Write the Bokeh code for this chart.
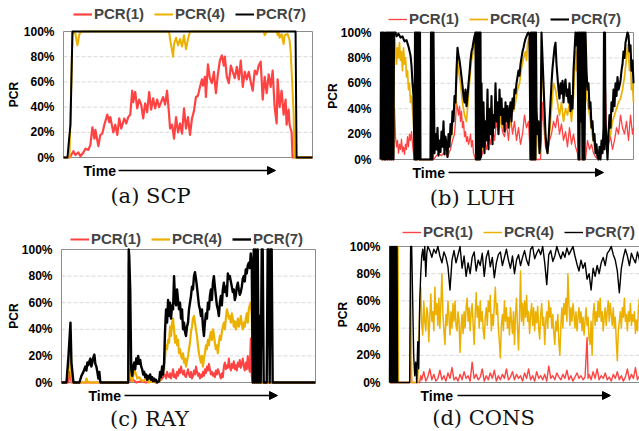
import math
from bokeh.plotting import figure
from bokeh.layouts import row, column
from bokeh.models import Range1d, Legend, LegendItem, Arrow, NormalHead
from bokeh.core.properties import value
from bokeh.embed import file_html
from bokeh.resources import INLINE

RED = "#FF4242"
YEL = "#EBB000"
BLK = "#000000"

pcr_ticks = [0, 20, 40, 60, 80, 100]
pcr_tick_labels = ["0%", "20%", "40%", "60%", "80%", "100%"]
series_names = ["PCR(1)", "PCR(4)", "PCR(7)"]
captions = ["(a) SCP", "(b) LUH", "(c) RAY", "(d) CONS"]
time_label = "Time"
y_label = "PCR"

# ---------------- (a) SCP : (time, PCR %) ----------------
scp_pcr1 = [(0,0),(6,0),(7,1),(10,5),(12,2),(15,4),(17,1),(20,4),(22,7),(25,6),(27,10),(29,24),(31,15),(32,22),(35,9),(37,18),(39,19),(41,26),(44,34),(46,28),(47,32),(50,20),(52,26),(54,18),(56,31),(58,23),(61,31),(63,27),(65,32),(67,34),(69,53),(70,44),(72,52),(74,39),(76,46),(78,42),(80,31),(82,43),(84,36),(86,52),(88,38),(90,47),(92,39),(94,46),(96,40),(98,44),(100,48),(102,42),(104,53),(106,34),(107,23),(109,26),(111,15),(113,32),(115,20),(117,27),(119,19),(121,39),(123,23),(125,32),(127,18),(129,31),(131,37),(133,48),(135,49),(137,56),(139,62),(140,57),(142,64),(143,48),(145,74),(147,63),(149,59),(151,68),(153,51),(155,66),(157,77),(159,81),(161,73),(162,80),(164,64),(166,59),(168,73),(170,68),(172,63),(174,72),(176,62),(178,77),(180,56),(182,68),(184,62),(186,68),(188,60),(190,53),(192,69),(194,66),(196,73),(198,76),(200,46),(202,64),(204,51),(206,66),(208,56),(210,69),(212,40),(214,27),(215,62),(217,40),(219,53),(221,34),(223,46),(224,26),(226,38),(227,26),(229,20),(230,0),(250,0)]
scp_pcr4 = [(0,0),(6,0),(9,100),(12,98),(14,89),(16,98),(18,100),(106,100),(107,94),(110,80),(111,90),(113,95),(115,89),(117,94),(119,88),(121,97),(123,86),(125,94),(127,100),(201,100),(202,97),(204,100),(214,100),(215,97),(216,100),(217,95),(219,98),(221,90),(222,97),(225,98),(227,93),(228,85),(229,69),(231,36),(232,0),(250,0)]
scp_pcr7 = [(0,0),(4,0),(6,18),(7,26),(9,100),(233,100),(234,0),(250,0)]

# ---------------- (b) LUH ----------------
luh_pcr1 = [(0,0),(13,0),(14,40),(15,18),(16,10),(17,15),(18,5),(19,12),(20,8),(21,16),(22,6),(23,10),(24,4),(25,12),(26,8),(27,18),(28,10),(29,20),(30,15),(31,22),(32,12),(33,5),(34,0),(36,0),(37,80),(38,0),(53,0),(55,2),(58,5),(61,3),(64,6),(67,2),(70,8),(72,15),(74,20),(75,30),(76,45),(77,40),(78,35),(79,42),(80,30),(81,38),(82,25),(83,30),(84,18),(85,22),(86,14),(87,18),(88,12),(89,15),(90,20),(91,10),(92,15),(93,5),(95,0),(100,0),(102,5),(104,15),(106,8),(108,20),(110,12),(112,25),(114,15),(116,30),(118,20),(120,35),(122,22),(124,18),(126,28),(128,15),(130,35),(132,20),(134,30),(136,15),(138,25),(140,12),(142,20),(144,35),(146,25),(148,30),(150,0),(160,0),(162,45),(163,30),(165,10),(167,5),(169,15),(171,20),(173,30),(175,25),(177,35),(179,20),(181,28),(183,15),(185,22),(187,10),(189,25),(191,12),(193,20),(195,10),(197,5),(198,0),(205,0),(207,15),(209,8),(211,12),(213,5),(215,2),(218,0),(221,5),(223,10),(225,55),(226,20),(228,12),(230,18),(232,8),(234,15),(236,25),(238,20),(240,35),(242,25),(244,20),(246,30),(248,15),(250,35),(252,20),(253,25)]
luh_pcr4 = [(0,0),(13,5),(14,100),(15,90),(16,75),(17,88),(18,80),(19,92),(20,78),(21,85),(22,70),(23,88),(24,75),(25,80),(26,65),(27,70),(28,55),(29,60),(30,45),(31,50),(32,40),(33,30),(34,0),(35,100),(36,0),(37,95),(38,0),(50,0),(51,100),(52,0),(53,5),(55,10),(57,15),(59,5),(61,18),(63,20),(65,10),(67,5),(69,15),(71,18),(73,35),(75,40),(77,80),(78,70),(80,60),(82,45),(84,35),(86,30),(88,50),(89,60),(90,70),(91,78),(92,82),(93,85),(94,92),(95,98),(96,0),(97,95),(98,0),(100,5),(101,45),(102,8),(103,35),(105,20),(107,40),(109,30),(111,42),(113,25),(115,48),(117,35),(119,40),(121,25),(123,30),(125,35),(127,30),(129,25),(131,40),(133,38),(135,45),(137,55),(139,60),(141,72),(143,80),(145,85),(146,78),(147,90),(148,95),(149,88),(150,0),(153,90),(155,0),(156,30),(158,10),(160,5),(161,80),(163,50),(165,15),(167,5),(169,20),(171,40),(173,60),(175,55),(177,45),(179,35),(181,45),(183,30),(185,40),(187,35),(189,45),(191,30),(193,50),(195,85),(196,70),(197,90),(198,0),(201,95),(202,0),(205,95),(206,50),(208,40),(210,30),(212,18),(214,10),(216,5),(218,0),(221,8),(224,15),(226,10),(228,15),(230,20),(232,30),(234,35),(236,40),(238,45),(240,48),(242,55),(244,65),(246,80),(247,90),(248,85),(249,70),(250,78),(251,55),(252,60),(253,45)]
luh_pcr7 = [(0,0),(0.5,100),(1,5),(1.5,100),(2,0),(2.5,100),(3,10),(3.5,100),(4,0),(4.5,95),(5,0),(5.5,100),(6,3),(6.5,100),(7,0),(7.5,100),(8,8),(8.5,100),(9,0),(9.5,100),(10,2),(10.5,100),(11,0),(11.5,100),(12,5),(12.5,100),(13,0),(13.5,100),(15,100),(16,97),(18,99),(20,96),(22,97),(24,93),(26,94),(28,89),(30,82),(31,74),(32,60),(33,50),(34,0),(34.5,100),(35,0),(35.5,100),(36,0),(36.5,100),(37,0),(37.5,100),(38,2),(38.5,100),(39,0),(39.5,100),(40,0),(50,0),(50.5,100),(51,0),(51.5,100),(52,0),(53,100),(54,5),(55,20),(56,8),(57,25),(58,3),(59,15),(60,6),(61,22),(62,10),(63,30),(64,4),(65,18),(66,12),(67,2),(68,20),(69,10),(70,28),(71,20),(72,38),(73,30),(74,50),(75,45),(76,70),(77,88),(78,82),(79,78),(80,72),(81,65),(82,58),(83,50),(84,45),(85,55),(86,42),(87,50),(88,60),(89,68),(90,78),(91,85),(92,88),(93,93),(94,97),(95,100),(95.5,0),(96,100),(96.5,0),(97,100),(97.5,0),(98,100),(98.5,0),(99,100),(99.5,0),(100,100),(100.5,2),(101,60),(102,10),(103,45),(104,5),(105,30),(106,15),(107,55),(108,8),(109,40),(110,20),(111,50),(112,12),(113,35),(114,25),(115,60),(116,30),(117,45),(118,20),(119,55),(120,35),(121,48),(122,28),(123,40),(124,22),(125,45),(126,30),(127,42),(128,25),(129,38),(130,45),(131,30),(132,48),(133,40),(134,55),(135,52),(136,60),(137,65),(138,70),(139,66),(140,75),(141,80),(142,85),(143,88),(144,92),(145,95),(146,97),(147,99),(148,100),(149,98),(150,0),(150.5,100),(151,0),(151.5,100),(152,0),(152.5,100),(153,0),(153.5,100),(154,0),(154.5,100),(155,0),(155.5,100),(156,40),(157,20),(158,30),(159,5),(160,15),(161,100),(162,80),(163,60),(164,40),(165,20),(166,10),(167,5),(168,15),(169,30),(170,45),(171,60),(172,72),(173,80),(174,88),(175,92),(176,75),(177,65),(178,55),(179,48),(180,60),(181,52),(182,62),(183,45),(184,58),(185,63),(186,50),(187,55),(188,45),(189,60),(190,38),(191,50),(192,40),(193,70),(194,85),(195,100),(196,90),(197,100),(198,0),(198.5,100),(199,0),(199.5,100),(200,30),(201,100),(202,0),(202.5,100),(203,0),(203.5,100),(204,0),(205,100),(206,70),(207,55),(208,60),(209,40),(210,45),(211,25),(212,30),(213,15),(214,20),(215,5),(216,12),(217,2),(218,0),(219,10),(220,0),(221,15),(222,5),(223,25),(223.5,100),(224,8),(224.5,100),(225,30),(226,15),(227,0),(228,20),(229,35),(230,25),(231,45),(232,38),(233,55),(234,42),(235,60),(236,50),(237,65),(238,55),(239,58),(240,62),(241,70),(242,75),(243,85),(244,80),(245,92),(246,96),(247,100),(248,98),(249,85),(250,90),(251,70),(252,78),(253,60)]

# ---------------- (c) RAY ----------------
ray_pcr1 = [(0,0),(7,0),(8,8),(9,6),(10,0),(67,0),(67.5,20),(68,5),(70,1),(72,2),(75,0),(80,1),(85,0),(90,1),(95,0),(100,2),(102,4),(104,6),(105,3),(106,8),(107,5),(108,4),(109,7),(110,3),(111,6),(112,10),(113,4),(114,6),(115,3),(116,8),(117,5),(118,10),(119,7),(120,12),(121,8),(122,6),(123,9),(124,5),(125,4),(126,7),(127,10),(128,6),(129,4),(130,8),(131,3),(132,5),(133,9),(134,6),(135,12),(136,8),(137,5),(138,7),(139,3),(140,6),(141,4),(142,8),(143,5),(144,10),(145,7),(146,12),(147,9),(148,14),(149,10),(150,6),(151,8),(152,5),(153,7),(154,4),(155,9),(156,6),(157,10),(158,8),(159,5),(160,3),(161,7),(162,4),(163,12),(164,15),(165,10),(166,13),(167,11),(168,18),(169,12),(170,9),(171,14),(172,11),(173,16),(174,10),(175,13),(176,9),(177,15),(178,12),(179,17),(180,11),(181,14),(182,18),(183,12),(184,9),(185,15),(186,10),(187,20),(188,12),(189,8),(190,33),(191,5),(192,0),(255,0)]
ray_pcr4 = [(0,0),(5,0),(7,10),(8,25),(9,15),(10,5),(11,0),(24,0),(25,3),(26,1),(27,0),(67,0),(67.5,90),(68,30),(69,5),(70,3),(71,1),(72,5),(73,10),(74,8),(75,6),(76,3),(78,4),(80,2),(82,1),(85,3),(88,0),(92,1),(96,0),(99,2),(100,5),(101,8),(102,12),(103,10),(104,20),(105,28),(106,25),(107,32),(108,30),(109,42),(110,35),(111,45),(112,48),(113,40),(114,30),(115,35),(116,28),(117,32),(118,22),(119,25),(120,20),(121,18),(122,22),(123,15),(124,18),(125,12),(126,16),(127,20),(128,25),(129,30),(130,38),(131,42),(132,48),(133,50),(134,45),(135,40),(136,35),(137,28),(138,22),(139,18),(140,15),(141,20),(142,12),(143,18),(144,22),(145,28),(146,25),(147,32),(148,28),(149,35),(150,38),(151,32),(152,40),(153,36),(154,30),(155,25),(156,28),(157,22),(158,30),(159,35),(160,32),(161,38),(162,42),(163,45),(164,40),(165,48),(166,55),(167,52),(168,48),(169,50),(170,45),(171,52),(172,48),(173,42),(174,46),(175,40),(176,44),(177,48),(178,42),(179,45),(180,50),(181,44),(182,40),(183,45),(184,42),(185,48),(186,52),(187,45),(188,55),(189,58),(190,60),(191,50),(192,0),(193,95),(194,0),(195,95),(196,0),(197,95),(198,0),(255,0)]
ray_pcr7 = [(0,0),(5,0),(7,20),(9,45),(10,15),(12,0),(18,0),(20,5),(22,8),(24,12),(25,9),(26,15),(27,13),(28,16),(29,18),(30,12),(31,15),(32,19),(33,21),(34,14),(35,12),(36,8),(37,3),(38,8),(39,0),(67,0),(67.5,100),(68,95),(69,70),(70,10),(71,5),(72,12),(73,15),(74,10),(75,18),(76,14),(77,20),(78,14),(79,17),(80,12),(81,10),(82,6),(83,8),(84,4),(85,6),(86,2),(87,5),(88,3),(89,6),(90,2),(91,4),(92,1),(93,3),(94,1),(95,2),(96,0),(98,1),(99,8),(100,4),(101,12),(102,6),(103,15),(104,40),(105,55),(106,45),(107,62),(108,50),(109,60),(110,48),(111,58),(112,55),(113,80),(114,62),(115,58),(116,70),(117,62),(118,55),(119,60),(120,48),(121,55),(122,40),(123,45),(124,38),(125,35),(126,42),(127,45),(128,55),(129,60),(130,65),(131,72),(132,70),(133,80),(134,83),(135,78),(136,72),(137,65),(138,58),(139,55),(140,50),(141,55),(142,42),(143,35),(144,45),(145,52),(146,48),(147,60),(148,55),(149,65),(150,70),(151,62),(152,75),(153,80),(154,72),(155,65),(156,58),(157,55),(158,50),(159,60),(160,65),(161,58),(162,70),(163,75),(164,68),(165,72),(166,65),(167,82),(168,78),(169,80),(170,76),(171,72),(172,68),(173,70),(174,62),(175,65),(176,72),(177,75),(178,70),(179,66),(180,68),(181,72),(182,78),(183,80),(184,76),(185,85),(186,82),(187,88),(188,90),(189,86),(190,97),(191,90),(192,0),(193,100),(194,0),(195,100),(196,0),(197,100),(198,0),(199,50),(200,0),(201,100),(202,100),(203,0),(206,0),(207,100),(208,100),(209,0),(210,100),(211,100),(212,0),(255,0)]

# ---------------- (d) CONS ----------------
cons_pcr1 = [(0,0),(20,0),(21,15),(22,0),(30,0),(31,5),(32,2),(34,8),(36,1),(38,4),(40,10),(42,2),(44,6),(46,1),(48,3),(50,9),(52,2),(54,5),(56,1),(58,7),(60,3),(62,11),(64,2),(66,4),(68,1),(70,6),(72,2),(74,8),(76,3),(78,5),(80,1),(82,15),(84,3),(86,6),(88,2),(90,4),(92,10),(94,1),(96,5),(98,2),(100,7),(102,3),(104,9),(106,1),(108,5),(110,2),(112,6),(114,3),(116,10),(118,2),(120,4),(122,8),(124,2),(126,6),(128,3),(130,5),(132,1),(134,7),(136,3),(138,10),(140,2),(142,5),(144,1),(146,8),(148,3),(150,5),(152,2),(154,6),(156,1),(158,12),(160,3),(162,5),(164,2),(166,7),(168,4),(170,2),(172,6),(174,3),(176,9),(178,2),(180,5),(182,1),(184,4),(186,7),(188,3),(190,5),(192,2),(194,4),(196,33),(197,3),(198,6),(200,2),(202,8),(204,3),(206,10),(208,2),(210,5),(212,3),(214,7),(216,2),(218,4),(220,1),(222,6),(224,3),(226,8),(228,2),(230,5),(232,1),(234,4),(236,10),(238,2),(240,6),(242,3),(244,11),(246,2),(248,5),(250,3)]
cons_pcr4 = [(0,0),(8,0),(8.5,100),(9,0),(20,0),(21,100),(22,0),(28,0),(29,30),(30,55),(31,70),(32,42),(33,35),(34,60),(35,45),(36,38),(37,55),(38,50),(39,30),(40,48),(41,65),(42,45),(43,52),(44,38),(45,70),(46,50),(47,58),(48,42),(49,62),(50,40),(51,58),(52,80),(53,50),(54,38),(55,28),(56,50),(57,42),(58,60),(59,48),(60,35),(61,52),(62,40),(63,58),(64,45),(65,60),(66,42),(67,38),(68,52),(69,45),(70,22),(71,40),(72,50),(73,36),(74,52),(75,40),(76,55),(77,62),(78,45),(79,55),(80,38),(81,52),(82,58),(83,42),(84,28),(85,50),(86,66),(87,48),(88,56),(89,40),(90,60),(91,45),(92,52),(93,38),(94,32),(95,48),(96,55),(97,42),(98,60),(99,52),(100,64),(101,38),(102,50),(103,42),(104,58),(105,70),(106,50),(107,58),(108,40),(109,30),(110,18),(111,42),(112,50),(113,38),(114,60),(115,45),(116,55),(117,40),(118,48),(119,35),(120,55),(121,45),(122,36),(123,52),(124,28),(125,50),(126,62),(127,40),(128,24),(129,48),(130,82),(131,45),(132,58),(133,42),(134,60),(135,48),(136,64),(137,45),(138,52),(139,36),(140,50),(141,58),(142,42),(143,55),(144,38),(145,52),(146,44),(147,56),(148,40),(149,32),(150,50),(151,58),(152,42),(153,48),(154,28),(155,45),(156,52),(157,40),(158,60),(159,48),(160,55),(161,40),(162,50),(163,36),(164,28),(165,45),(166,38),(167,50),(168,30),(169,20),(170,42),(171,55),(172,40),(173,58),(174,50),(175,62),(176,45),(177,80),(178,58),(179,42),(180,55),(181,45),(182,58),(183,50),(184,40),(185,52),(186,38),(187,48),(188,55),(189,44),(190,52),(191,38),(192,48),(193,35),(194,45),(195,55),(196,42),(197,48),(198,32),(199,28),(200,45),(201,20),(202,50),(203,58),(204,42),(205,52),(206,45),(207,60),(208,48),(209,62),(210,45),(211,52),(212,38),(213,48),(214,55),(215,42),(216,52),(217,60),(218,45),(219,58),(220,50),(221,42),(222,55),(223,40),(224,48),(225,30),(226,16),(227,38),(228,45),(229,52),(230,40),(231,55),(232,48),(233,62),(234,45),(235,50),(236,38),(237,52),(238,45),(239,58),(240,42),(241,50),(242,45),(243,52),(244,36),(245,46),(246,38),(247,55),(248,62),(249,42),(250,30)]
cons_pcr7 = [(0,0),(0.5,100),(1,0),(1.5,100),(2,0),(2.5,100),(3,0),(3.5,100),(4,0),(4.5,100),(5,0),(5.5,100),(6,0),(6.5,100),(7,0),(7.5,100),(8,0),(20,0),(21,100),(22,100),(23,60),(24,20),(25,5),(26,15),(27,0),(28,30),(29,10),(30,60),(31,80),(32,93),(33,98),(34,90),(35,100),(36,78),(37,95),(38,100),(40,97),(42,92),(44,98),(46,95),(48,100),(50,93),(52,88),(54,96),(56,92),(58,85),(60,68),(62,90),(64,97),(66,88),(68,94),(70,100),(72,84),(74,93),(76,78),(78,88),(80,80),(82,92),(84,96),(86,82),(88,90),(90,86),(92,95),(94,78),(96,92),(98,97),(100,85),(102,92),(104,77),(106,88),(108,94),(110,96),(112,86),(114,92),(116,98),(118,90),(120,84),(122,93),(124,80),(126,90),(128,94),(130,86),(132,92),(134,97),(136,90),(138,86),(140,98),(142,100),(144,91),(146,95),(148,98),(150,94),(152,100),(154,88),(156,72),(158,94),(160,97),(162,89),(164,93),(166,100),(168,95),(170,91),(172,96),(174,92),(176,99),(178,94),(180,97),(182,100),(184,93),(186,87),(188,82),(190,90),(192,84),(194,88),(196,76),(198,80),(200,68),(202,84),(204,78),(206,86),(208,80),(210,88),(212,92),(214,86),(216,95),(218,97),(220,100),(222,94),(224,90),(226,82),(228,66),(230,84),(232,92),(234,98),(236,93),(238,86),(240,95),(242,91),(244,88),(246,96),(248,90),(250,78)]


def make_panel(series, tmax, caption, width, height, bl, br, bt, bb, widths,
               legend_x, legend_gap, pcr_dx, time_x, arrow_x0, arrow_x1, cap_x, cap_dy):
    fw = width - bl - br          # pixel width of the 0..tmax box
    fh = height - bt - bb         # pixel height of the 0..100 box
    sx = tmax / fw
    sy = 100.0 / fh
    p = figure(width=width, height=height,
               x_range=Range1d(-bl * sx, tmax + br * sx), y_range=Range1d(-bb * sy, 100 + bt * sy),
               output_backend="svg", toolbar_location=None,
               x_axis_location=None, y_axis_location=None,
               min_border_left=0, min_border_right=0, min_border_top=0, min_border_bottom=0)
    p.background_fill_color = "white"
    p.border_fill_color = "white"
    p.outline_line_color = None
    p.xgrid.visible = False
    p.ygrid.visible = False

    inner = pcr_ticks[1:-1]
    p.segment(x0=[0] * len(inner), x1=[tmax] * len(inner), y0=inner, y1=inner,
              line_color="#d9d9d9", line_width=1, line_dash="4 2")
    p.quad(left=[0], right=[tmax], bottom=[0], top=[100], fill_color=None,
           line_color="#8c8c8c", line_width=1)

    # y tick labels and axis title
    p.text(x=[-9 * sx] * len(pcr_ticks), y=pcr_ticks, text=pcr_tick_labels,
           text_align="right", text_baseline="middle", text_color="black",
           text_font=value("Liberation Sans"), text_font_style="bold", text_font_size=value("12px"))
    p.text(x=[pcr_dx * sx], y=[50], text=[y_label], angle=math.pi / 2,
           text_align="center", text_baseline="middle", text_color="black",
           text_font=value("Liberation Sans"), text_font_style="bold", text_font_size=value("12px"))

    rends = []
    for pts, color, lw in zip(series, [RED, YEL, BLK], widths):
        xs = [a for a, b in pts]
        ys = [b for a, b in pts]
        rends.append(p.line(xs, ys, line_color=color, line_width=lw, line_join="round"))

    legend = Legend(items=[LegendItem(label=n, renderers=[r]) for n, r in zip(series_names, rends)],
                    location=(bl + legend_x, bb + fh + legend_gap), orientation="horizontal",
                    border_line_color=None, background_fill_alpha=0, padding=0, margin=0,
                    spacing=10, label_standoff=2, glyph_width=19, glyph_height=14, label_height=14,
                    label_text_font="Liberation Sans", label_text_font_style="bold",
                    label_text_font_size="15px", label_text_baseline="middle")
    p.add_layout(legend)

    # "Time ->" under the box, and the caption
    p.text(x=[time_x * sx], y=[-13 * sy], text=[time_label], text_align="left",
           text_baseline="middle", text_color="black", text_font=value("Liberation Sans"),
           text_font_style="bold", text_font_size=value("14px"))
    p.add_layout(Arrow(x_start=arrow_x0 * sx, y_start=-13 * sy, x_end=arrow_x1 * sx, y_end=-13 * sy,
                       line_width=1.5, line_color="black",
                       end=NormalHead(size=8, fill_color="black", line_color="black")))
    p.text(x=[cap_x * sx], y=[-cap_dy * sy], text=[caption], text_align="center",
           text_baseline="middle", text_color="#111111", text_font=value("DejaVu Serif"),
           text_font_size=value("21px"))
    return p


pa = make_panel([scp_pcr1, scp_pcr4, scp_pcr7], 250, captions[0], 320, 218, 63, 8, 31, 61,
                [2.2, 2.0, 2.0], 10, 9, -50, 20, 55, 212, 87, 38)
pb = make_panel([luh_pcr1, luh_pcr4, luh_pcr7], 253, captions[1], 319, 218, 60, 6, 32, 59,
                [1.3, 1.7, 2.1], 8, 5, -48, 32, 68, 223, 92, 38)
pc = make_panel([ray_pcr1, ray_pcr4, ray_pcr7], 255, captions[2], 320, 213, 61, 5, 31, 49,
                [2.0, 2.2, 2.4], 9, 2, -48, 27, 63, 216, 88, 36)
pd = make_panel([cons_pcr1, cons_pcr4, cons_pcr7], 250, captions[3], 319, 213, 69, -2, 28, 49,
                [1.4, 1.5, 1.4], 13, 6, -47, 31, 68, 221, 94, 35)

layout = column(row(pa, pb, spacing=0), row(pc, pd, spacing=0), spacing=0)
open("out.html", "w").write(file_html(layout, INLINE))
